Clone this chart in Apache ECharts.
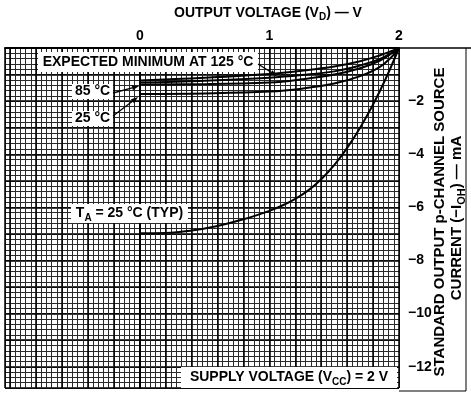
<!DOCTYPE html>
<html><head><meta charset="utf-8">
<script src="https://cdn.jsdelivr.net/npm/echarts@6/dist/echarts.min.js"></script>
<style>html,body{margin:0;padding:0;background:#fff}#c{width:471px;height:395px}</style>
</head><body><div id="c"></div>
<script>
// ---- data ----
const xTickLabels = [0, 1, 2];
const yTickLabels = [-2, -4, -6, -8, -10, -12];
const vd = [0, 0.5, 1.0, 1.25, 1.5, 1.7, 1.85, 1.95, 2];
const iExpMin125 = [-1.22, -1.12, -0.98, -0.86, -0.70, -0.50, -0.28, -0.10, 0];
const iCurve2   = [-1.30, -1.23, -1.12, -1.02, -0.88, -0.66, -0.42, -0.16, 0];
const i85       = [-1.37, -1.36, -1.30, -1.18, -1.00, -0.76, -0.48, -0.18, 0];
const i25       = [-1.73, -1.71, -1.64, -1.53, -1.34, -1.06, -0.72, -0.30, 0];
const vdTyp = [0, 0.2, 0.4, 0.6, 0.8, 1.0, 1.1, 1.2, 1.3, 1.4, 1.5, 1.6, 1.7, 1.8, 1.9, 2];
const iTyp  = [-6.97, -6.96, -6.87, -6.70, -6.45, -6.13, -5.93, -5.68, -5.36, -4.94, -4.41, -3.76, -3.00, -2.13, -1.13, 0];

const FONT = '"Liberation Sans", Arial, sans-serif';
const zip = (xs, ys) => xs.map((x, i) => [x, ys[i]]);
const isLabel = (arr, v) => arr.some(t => Math.abs(t - v) < 1e-6);
const fmt = v => { const r = Math.round(v); return r < 0 ? '\u2212' + (-r) : String(r); };

function curve(name, xs, ys) {
  return { name, type: 'line', xAxisIndex: 0, yAxisIndex: 0, data: zip(xs, ys), smooth: 0.4,
    symbol: 'none', lineStyle: { color: '#000', width: 2 }, z: 5, silent: true };
}

const thin = { show: true, lineStyle: { color: '#2a2a2a', width: 1 } };
const thick = { show: true, lineStyle: { color: '#000', width: 1.5 } };
function mkRich(size) {
  return {
    b: { fontFamily: FONT, fontWeight: 'bold', fontSize: size, lineHeight: size + 5, verticalAlign: 'middle', color: '#000' },
    s: { fontFamily: FONT, fontWeight: 'bold', fontSize: Math.round(size * 0.7), lineHeight: size + 5, verticalAlign: 'bottom', color: '#000' }
  };
}
const rich = mkRich(14);
const richY = mkRich(15);

function box(x, y, w, h, text, tx) {
  return [
    { type: 'rect', shape: { x, y, width: w, height: h }, style: { fill: '#fff' }, z: 20 },
    { type: 'text', x: tx !== undefined ? tx : x + w / 2, y: y + h / 2, z: 21,
      style: { text, rich, align: 'center', verticalAlign: 'middle' } }
  ];
}
function arrow(x1, y1, x2, y2) {
  const a = Math.atan2(y2 - y1, x2 - x1), L = 7, W = 2.5;
  const bx = x2 - L * Math.cos(a), by = y2 - L * Math.sin(a);
  return [
    { type: 'line', shape: { x1, y1, x2: bx, y2: by }, style: { stroke: '#000', lineWidth: 1.3 }, z: 22 },
    { type: 'polygon', shape: { points: [[x2, y2], [bx - W * Math.sin(a), by + W * Math.cos(a)], [bx + W * Math.sin(a), by - W * Math.cos(a)]] },
      style: { fill: '#000' }, z: 22 }
  ];
}

const chart = echarts.init(document.getElementById('c'), null, { renderer: 'canvas' });
chart.setOption({
  animation: false,
  backgroundColor: '#fff',
  grid: { left: 5, right: 72, top: 48, bottom: 7, containLabel: false },
  xAxis: [
    { type: 'value', position: 'top', min: -1.04, max: 2, interval: 0.04,
      axisLine: { show: true, lineStyle: { color: '#000', width: 2 } }, axisTick: { show: false },
      axisLabel: { show: true, interval: 0, margin: 5, color: '#000', fontFamily: FONT, fontWeight: 'bold', fontSize: 14,
        formatter: v => isLabel(xTickLabels, v) ? fmt(v) : '' },
      splitLine: thin },
    { type: 'value', position: 'top', min: -1.04, max: 2, splitNumber: 15,
      axisLine: { show: false }, axisTick: { show: false }, axisLabel: { show: false }, splitLine: thick }
  ],
  yAxis: [
    { type: 'value', position: 'right', min: -12.8, max: 0, interval: 0.2,
      axisLine: { show: true, lineStyle: { color: '#000', width: 2 } }, axisTick: { show: false },
      axisLabel: { show: true, interval: 0, margin: 9, color: '#000', fontFamily: FONT, fontWeight: 'bold', fontSize: 14,
        formatter: v => isLabel(yTickLabels, v) ? fmt(v) : '' },
      splitLine: thin },
    { type: 'value', position: 'right', min: -12.8, max: 0, splitNumber: 13,
      axisLine: { show: false }, axisTick: { show: false }, axisLabel: { show: false }, splitLine: thick }
  ],
  series: [
    curve('Expected minimum at 125 °C', vd, iExpMin125),
    curve('Curve 2', vd, iCurve2),
    curve('85 °C', vd, i85),
    curve('25 °C', vd, i25),
    curve('TA = 25 °C (TYP)', vdTyp, iTyp)
  ],
  graphic: [
    { type: 'text', x: 268, y: 13, z: 21, style: { text: '{b|OUTPUT VOLTAGE (V}{s|D}{b|) \u2014 V}', rich, align: 'center', verticalAlign: 'middle' } },
    { type: 'text', x: 440, y: 222, rotation: Math.PI / 2, z: 21,
      style: { text: '{b|STANDARD OUTPUT p-CHANNEL SOURCE}', rich: richY, align: 'center', verticalAlign: 'middle' } },
    { type: 'text', x: 457, y: 218, rotation: Math.PI / 2, z: 21,
      style: { text: '{b|CURRENT (\u2212I}{s|OH}{b|) \u2014 mA}', rich: richY, align: 'center', verticalAlign: 'middle' } },
    { type: 'polyline', shape: { points: [[399, 48], [471, 48]] }, style: { stroke: '#000', lineWidth: 1.5 }, z: 19 },
    { type: 'polyline', shape: { points: [[466, 48], [466, 391], [399, 391]] }, style: { stroke: '#000', lineWidth: 1 }, z: 19 },
    ...box(38, 52, 220, 20, '{b|EXPECTED MINIMUM AT 125 \u00B0C}'),
    ...box(72, 84, 41, 15, '{b|85 \u00B0C}'),
    ...box(72, 111, 41, 15, '{b|25 \u00B0C}'),
    ...box(71, 204, 117, 19, '{b|T}{s|A}{b| = 25 \u00B0C (TYP)}'),
    ...box(181, 367, 216, 21, '{b|SUPPLY VOLTAGE (V}{s|CC}{b|) = 2 V}'),
    ...arrow(258, 64, 277, 76),
    ...arrow(113, 93, 139, 86),
    ...arrow(113, 116, 138, 97)
  ]
});
</script></body></html>
